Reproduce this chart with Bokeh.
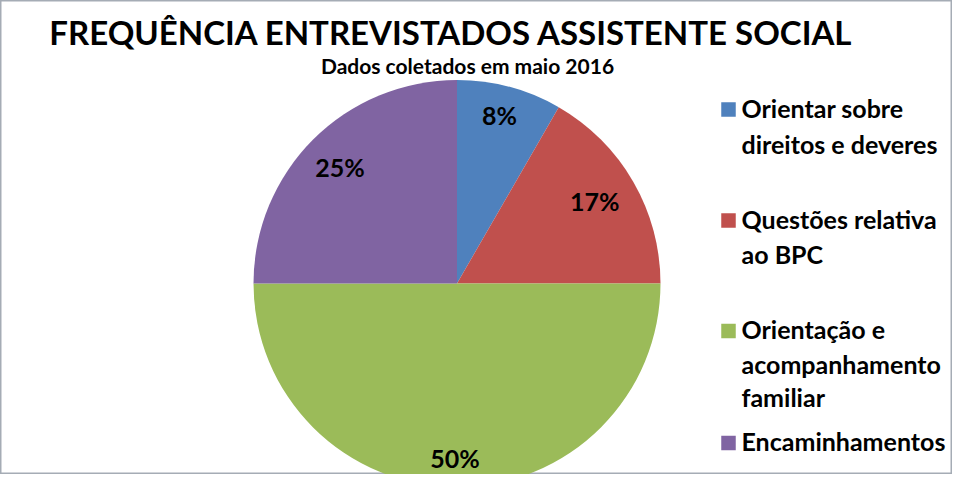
import math
from bokeh.plotting import figure
from bokeh.models import Range1d, ColumnDataSource, Label
from bokeh.core.properties import value
from bokeh.embed import file_html
from bokeh.resources import INLINE

# ---- data ----
categories = ["Orientar sobre direitos e deveres", "Questões relativa ao BPC",
              "Orientação e acompanhamento familiar", "Encaminhamentos"]
legend_lines = [["Orientar sobre", "direitos e deveres"],
                ["Questões relativa", "ao BPC"],
                ["Orientação e", "acompanhamento", "familiar"],
                ["Encaminhamentos"]]
counts = [1, 2, 6, 3]
colors = ["#4F81BD", "#C0504D", "#9BBB59", "#8064A2"]
title_text = "FREQUÊNCIA ENTREVISTADOS ASSISTENTE SOCIAL"
subtitle_text = "Dados coletados em maio 2016"

W, H = 952, 474
FONT = "Lato"

def X(rx):
    return rx

def Y(ry):
    return H - ry

p = figure(width=W, height=H, output_backend="svg", toolbar_location=None,
           x_range=Range1d(0, W), y_range=Range1d(0, H),
           x_axis_type=None, y_axis_type=None, min_border=0,
           background_fill_color="white", border_fill_color="white")
p.grid.visible = False
p.outline_line_color = "#A5ACB5"
p.outline_line_width = 2

# pie
cx, cy, R = X(456.5), Y(283), 203.5
total = sum(counts)
starts, ends, lx, ly, labels = [], [], [], [], []
cum = 0.0
for c in counts:
    f0 = cum / total
    cum += c
    f1 = cum / total
    a0 = math.pi / 2 - 2 * math.pi * f0
    a1 = math.pi / 2 - 2 * math.pi * f1
    starts.append(a0)
    ends.append(a1)
    am = (a0 + a1) / 2
    lab = f"{round(100 * c / total)}%"
    # label box kept inside the slice edge (inside-end placement)
    hw, hh = 8 * len(lab), 12
    d = 0.924 * R - (hw * abs(math.cos(am)) + hh * abs(math.sin(am)))
    lx.append(cx + d * math.cos(am) - 2)
    ly.append(cy + d * math.sin(am) + 2)
    labels.append(lab)

src = ColumnDataSource(dict(start=starts, end=ends, color=colors,
                            lx=lx, ly=ly, label=labels))
p.wedge(x=cx, y=cy, radius=R, start_angle="start", end_angle="end",
        direction="clock", fill_color="color", line_color=None, source=src)
p.text(x="lx", y="ly", text="label", source=src, text_font=value(FONT),
       text_font_style="bold", text_font_size="25px", text_color="black",
       text_align="center", text_baseline="middle")

# titles
p.add_layout(Label(x=X(451), y=Y(31), text=title_text, text_font=FONT,
                   text_font_style="bold", text_font_size="33px",
                   text_color="black", text_align="center",
                   text_baseline="middle"))
p.add_layout(Label(x=X(467), y=Y(65), text=subtitle_text, text_font=FONT,
                   text_font_style="bold", text_font_size="21px",
                   text_color="black", text_align="center",
                   text_baseline="middle"))

# legend
centers = [[108.5, 144.5], [219.5, 255], [330, 365, 398], [442]]
for lines, cl, col in zip(legend_lines, centers, colors):
    p.rect(x=X(728), y=Y(cl[0] + 0.5), width=14.5, height=14.5,
           fill_color=col, line_color=None)
    for t, c in zip(lines, cl):
        p.add_layout(Label(x=X(741), y=Y(c - 1.5), text=t, text_font=FONT,
                           text_font_style="bold", text_font_size="25px",
                           text_color="black", text_align="left",
                           text_baseline="middle"))

open("out.html", "w").write(file_html(p, INLINE))
